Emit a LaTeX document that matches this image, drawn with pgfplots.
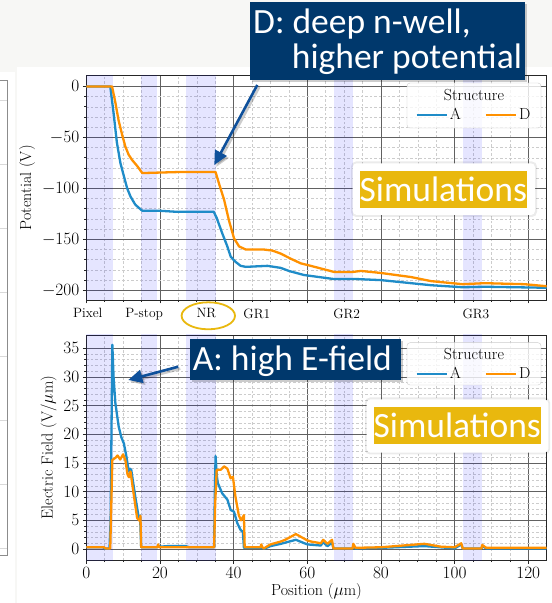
\documentclass[border=0pt]{standalone}
\usepackage{fontspec}
\usepackage{pgfplots}
\pgfplotsset{compat=1.18}
\usetikzlibrary{arrows.meta}
\newfontfamily\callout{Carlito}

\definecolor{seriesA}{RGB}{31,140,200}
\definecolor{seriesD}{RGB}{255,145,0}
\definecolor{navy}{RGB}{0,56,108}
\definecolor{arrowblue}{RGB}{14,80,155}
\definecolor{simyellow}{RGB}{233,184,14}
\definecolor{slidebg}{RGB}{247,247,245}

\newcommand{\labelfont}{\fontsize{16}{19}\selectfont}
\newcommand{\tickfont}{\fontsize{16.5}{19}\selectfont}
\newcommand{\calloutfont}{\callout\fontsize{35.5}{40}\selectfont}

\pgfplotsset{
  common/.style={
    scale only axis, width=460.4pt,
    xmin=0, xmax=125,
    xtick={0,20,...,120}, minor x tick num=3,
    grid=both,
    major grid style={draw=black!62, line width=0.6pt},
    minor grid style={draw=black!20, line width=0.5pt, dash pattern=on 2.5pt off 2pt},
    axis line style={draw=black!85, line width=0.8pt},
    tick style={draw=black!85, line width=0.6pt},
    tick align=outside, major tick length=3.5pt, minor tick length=2pt,
    tick pos=left,
    tick label style={font=\tickfont},
    label style={font=\labelfont},
    every axis plot/.append style={line width=2.3pt, line join=round},
    legend columns=2,
    legend style={draw=none, fill=none, font=\labelfont, anchor=center,
      /tikz/every even column/.append style={column sep=22pt}},
    legend image code/.code={\draw[#1, line width=2.3pt] (0pt,0pt) -- (30pt,0pt);},
  },
}

% shaded device regions: pixel, p-stop, NR, GR2, GR3
\newcommand{\regions}[2]{%
  \fill[blue, fill opacity=0.1] (axis cs:0,#1) rectangle (axis cs:7.2,#2);
  \fill[blue, fill opacity=0.1] (axis cs:14.9,#1) rectangle (axis cs:19.3,#2);
  \fill[blue, fill opacity=0.1] (axis cs:27.1,#1) rectangle (axis cs:35.1,#2);
  \fill[blue, fill opacity=0.1] (axis cs:67.2,#1) rectangle (axis cs:72.3,#2);
  \fill[blue, fill opacity=0.1] (axis cs:102.3,#1) rectangle (axis cs:107.4,#2);
}

\begin{document}
\begin{tikzpicture}
\useasboundingbox (0,0) rectangle (552pt,603pt);
% slide background and panels
\fill[slidebg] (0,0) rectangle (552pt,603pt);
\fill[white] (0,0) rectangle (15pt,531pt);
\fill[white] (17pt,0) rectangle (552pt,536.3pt);
\foreach \yy in {100,164,228,292,356,420,484,548}{
  \draw[black!15, line width=0.6pt] (0,{(603-\yy)*1pt}) -- (7.3pt,{(603-\yy)*1pt});
}
\draw[black!45, line width=0.8pt] (0,523pt) -- (7.3pt,523pt) -- (7.3pt,48pt) -- (0,48pt);

% ---------- potential ----------
\begin{axis}[common,
  at={(86.3pt,303pt)}, anchor=south west, height=224.3pt,
  ymin=-209.5, ymax=10.5,
  ytick={-200,-150,...,0}, minor y tick num=4,
  xticklabels={},
  extra x ticks={0.4,15.7,32.6,46.3,70.7,105.8},
  extra x tick labels={Pixel,P-stop,NR,GR1,GR2,GR3},
  extra x tick style={grid=none, major tick length=0pt,
    tick label style={font=\fontsize{13.5}{16}\selectfont, yshift=-5pt}},
  ylabel={Potential (V)},
  legend style={at={(rel axis cs:0.842,0.825)}},
]
\regions{-300}{50}
\addplot[seriesA] coordinates {
 (0,0) (6.5,0) (7.4,-26) (8.3,-55) (9.25,-75) (10.2,-88) (11.1,-100) (12,-108)
 (13.3,-116) (15.2,-122) (20,-122) (24.5,-123) (34.6,-123) (35.4,-129) (36.9,-144)
 (38.3,-157) (39.2,-167) (40.5,-172) (41.9,-176) (43.3,-177) (49.2,-176) (52.8,-178)
 (55,-181) (59.1,-185) (67.3,-189) (73.7,-189) (80,-190) (93.6,-195) (102.2,-197)
 (108.1,-196.5) (125,-197.5)};
\addlegendentry{A}
\addplot[seriesD] coordinates {
 (0,0) (7,0) (7.9,-16) (8.8,-34) (9.7,-47) (10.6,-59) (11.5,-67) (12.4,-72)
 (13.8,-78) (15.2,-85) (20,-84.5) (25,-84) (35.1,-84) (36,-95) (37.4,-111)
 (38.7,-131) (40.1,-149) (41.5,-157) (43.3,-160) (48.2,-160) (50.5,-161) (52.8,-164)
 (55.5,-169) (58.2,-173.5) (62,-177) (67.3,-182) (72.3,-182) (74.6,-181) (80,-183)
 (88.2,-187) (93.6,-191) (102.2,-194) (108.1,-193) (119,-194) (125,-196)};
\addlegendentry{D}
\draw[draw=black!20, fill=white, fill opacity=0.8, rounded corners=3pt]
  (rel axis cs:0.6966,0.7668) rectangle (rel axis cs:0.9876,0.9675);
\node[font=\labelfont] at (rel axis cs:0.842,0.9126) {Structure};
\end{axis}

% ---------- electric field ----------
\begin{axis}[common,
  at={(86.3pt,43pt)}, anchor=south west, height=225pt,
  ymin=-1.92, ymax=37.3,
  ytick={0,5,...,35}, minor y tick num=4,
  xlabel={Position ($\mu$m)},
  ylabel={Electric Field (V/$\mu$m)},
  xlabel style={yshift=2pt},
  legend style={at={(rel axis cs:0.842,0.8267)}},
]
\regions{-10}{50}
\addplot[seriesA] coordinates {
 (0,0.3) (4.5,0.3) (5,0.1) (6.3,0.1) (6.6,5) (7.07,35.6) (7.4,30) (7.9,25.4)
 (8.8,21.3) (9.5,19.5) (10.2,18.4) (10.9,16.1) (11.5,13.5) (11.8,14) (12.2,13.8)
 (13.3,9.1) (14.2,5.6) (14.6,5.8) (14.9,0.3) (19.3,0.3) (19.5,0.6) (20,0.4)
 (22,0.5) (27,0.5) (28,0.3) (34.7,0.3) (34.9,10) (35.1,16.2) (35.4,13) (35.7,11.5)
 (36.9,9.7) (38.3,8.6) (39.2,6.8) (40.1,6.5) (41,4.5) (41.9,3.3) (42.5,3)
 (42.8,0.2) (47,0.2) (48.5,0.1) (50,0.5) (52.8,0.9) (56.9,1.6) (60,0.8) (63.7,0.6)
 (64.2,1.2) (65.5,0.5) (66.7,1.1) (67.1,0.1) (72.3,0.1) (72.5,0.5) (73,0.1)
 (80,0.2) (91.8,0.5) (96,0.3) (100,0.1) (101.8,0.8) (102.2,0.1) (107.3,0.1)
 (107.5,0.5) (108.6,0.1) (125,0.1)};
\addlegendentry{A}
\addplot[seriesD] coordinates {
 (0,0.3) (4.8,0.3) (5.2,0.1) (6.5,0.1) (6.8,8) (7.07,15.5) (7.9,15.9) (8.5,16.3)
 (9.2,15.6) (10,16.5) (10.6,15.5) (11.2,13) (11.6,12.5) (12,13.5) (12.7,10.3)
 (13.8,5.4) (14.5,4.9) (14.7,5.8) (14.9,0.3) (19.3,0.3) (19.5,0.8) (19.8,0.3)
 (34.7,0.3) (35,8) (35.4,13.8) (36.5,13.8) (37.4,14.4) (38.3,14) (39.2,12.3)
 (39.8,12.6) (40.5,9.1) (41.4,5.9) (42,5) (42.8,5.9) (43,0.3) (47.3,0.3)
 (47.5,0.8) (47.8,0.3) (48.2,0.1) (50,0.8) (52.8,1.3) (54,1.6) (56.9,2.6)
 (60,1.5) (61,1.3) (63.7,1) (64.3,1.6) (65.5,0.9) (66.7,1.6) (67.1,0.1)
 (72.3,0.1) (72.5,0.9) (73.1,0.2) (80,0.3) (91.8,0.9) (96.3,0.4) (100,0.3)
 (101.8,1) (102.2,0.1) (107.3,0.1) (107.5,0.7) (108.6,0.2) (125,0.2)};
\addlegendentry{D}
\draw[draw=black!20, fill=white, fill opacity=0.8, rounded corners=3pt]
  (rel axis cs:0.6966,0.7778) rectangle (rel axis cs:0.9876,0.9658);
\node[font=\labelfont] at (rel axis cs:0.842,0.9156) {Structure};
\end{axis}

% ---------- annotations ----------
% NR marker
\draw[simyellow, line width=1.8pt] (208.3pt,287.2pt) ellipse (26.7pt and 13.5pt);

% "Simulations" badges
\fill[black, opacity=0.08, rounded corners=5pt] (351pt,386pt) rectangle (537pt,441.5pt);
\fill[white, rounded corners=4pt] (352.7pt,388pt) rectangle (535pt,439.7pt);
\fill[simyellow] (360pt,394.7pt) rectangle (526.7pt,432pt);
\node[white, font=\calloutfont] at (443.3pt,413.3pt) {Simulations};

\fill[black, opacity=0.08, rounded corners=5pt] (365pt,148.5pt) rectangle (550pt,205.5pt);
\fill[white, rounded corners=4pt] (366.7pt,150.3pt) rectangle (548.3pt,203.7pt);
\fill[simyellow] (374pt,158.7pt) rectangle (540.7pt,195.7pt);
\node[white, font=\calloutfont] at (457.3pt,177.2pt) {Simulations};

% callout D
\draw[black, opacity=0.2, line width=2.6pt, -{Triangle[length=14pt,width=13pt]}]
  (259.3pt,516pt) -- (216.3pt,436pt);
\draw[arrowblue, line width=2.6pt, -{Triangle[length=14pt,width=13pt]}]
  (257.3pt,518pt) -- (214.3pt,438pt);
\fill[black, opacity=0.2] (252pt,521pt) rectangle (527pt,599.3pt);
\fill[navy] (250pt,523pt) rectangle (525pt,601.3pt);
\node[white, anchor=base west, inner sep=0pt, font=\calloutfont]
  at (253pt,569.7pt) {D: deep n-well,};
\node[white, anchor=base west, inner sep=0pt, font=\calloutfont]
  at (291.7pt,534.7pt) {higher potential};

% callout A
\draw[black, opacity=0.2, line width=2.6pt, -{Triangle[length=14pt,width=13pt]}]
  (180.3pt,234.3pt) -- (130.3pt,221pt);
\draw[arrowblue, line width=2.6pt, -{Triangle[length=14pt,width=13pt]}]
  (178.3pt,236.3pt) -- (128.3pt,223pt);
\fill[black, opacity=0.2] (192pt,221pt) rectangle (403pt,261.7pt);
\fill[navy] (190pt,223pt) rectangle (401pt,263.7pt);
\node[white, anchor=base west, inner sep=0pt, font=\calloutfont]
  at (192.7pt,232.3pt) {A: high E-field};
\end{tikzpicture}
\end{document}
